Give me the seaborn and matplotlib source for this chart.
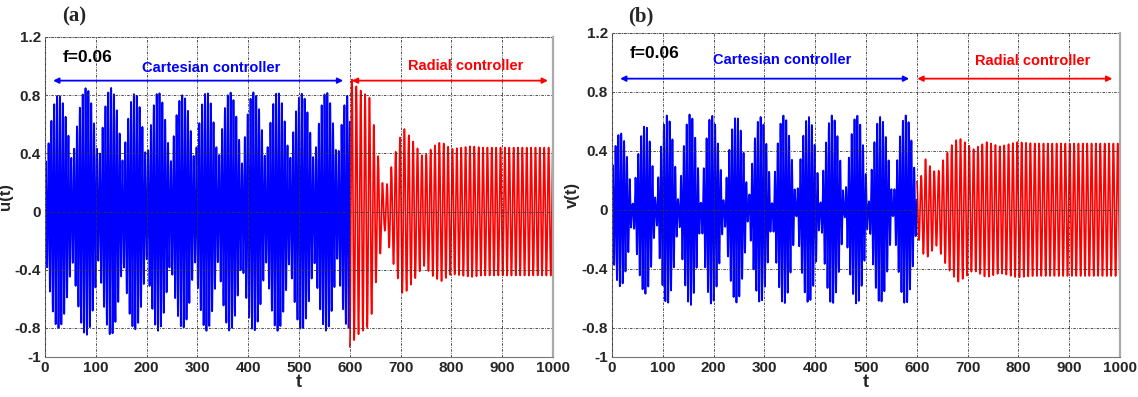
import numpy as np
import pandas as pd
import matplotlib
matplotlib.use("Agg")
import matplotlib.pyplot as plt
import seaborn as sns

# ---------------- data ----------------
t_switch = 600
t_end = 1000
cart_period = 5.6      # visible oscillation period, Cartesian phase
rad_period = 8.6       # visible oscillation period, Radial phase

# u(t): Cartesian phase, beat peak times / peak amplitudes, trough level
u_beat_t = [26, 81, 130, 177, 223, 271, 318, 364, 411, 458, 505, 554, 597]
u_beat_amp = [0.80, 0.85, 0.85, 0.81, 0.82, 0.80, 0.82, 0.82, 0.82, 0.82, 0.81, 0.82, 0.80]
u_trough = 0.32
# u(t): Radial phase envelope
u_rad_t = [600, 615, 640, 655, 668, 685, 705, 725, 745, 765, 780, 800, 840, 860, 1000]
u_rad_amp = [0.93, 0.85, 0.78, 0.40, 0.12, 0.35, 0.58, 0.48, 0.37, 0.45, 0.48, 0.43, 0.45, 0.44, 0.44]

# v(t): Cartesian phase
v_beat_t = [16, 65, 108, 154, 196, 245, 292, 338, 387, 433, 482, 528, 578]
v_beat_amp = [0.52, 0.57, 0.64, 0.65, 0.64, 0.63, 0.63, 0.64, 0.63, 0.64, 0.64, 0.63, 0.64]
v_trough = 0.03
# v(t): Radial phase envelope
v_rad_t = [600, 608, 616, 625, 640, 652, 669, 682, 698, 711, 737, 764, 797, 830, 1000]
v_rad_amp = [0.19, 0.22, 0.35, 0.30, 0.24, 0.34, 0.44, 0.49, 0.45, 0.41, 0.46, 0.43, 0.46, 0.45, 0.45]

x_ticks = [0, 100, 200, 300, 400, 500, 600, 700, 800, 900, 1000]
y_ticks = [-1, -0.8, -0.4, 0, 0.4, 0.8, 1.2]
y_tick_labels = ["-1", "-0.8", "-0.4", "0", "0.4", "0.8", "1.2"]

panel_labels = ["(a)", "(b)"]
y_labels = ["u(t)", "v(t)"]

# ---------------- build signals ----------------
dt = 0.1
t = np.arange(0, t_end + dt / 2, dt)


def cart_signal(tt, beat_t, beat_amp, trough, period):
    bt = np.asarray(beat_t, float)
    tb = np.mean(np.diff(bt))
    bt_ext = np.concatenate([[bt[0] - tb], bt, [bt[-1] + tb]])
    k = np.interp(tt, bt_ext, np.arange(len(bt_ext)))
    pk = np.interp(tt, bt, beat_amp)
    env = trough + (pk - trough) * np.abs(np.cos(np.pi * k))
    return env * np.sin(2 * np.pi * tt / period)


def rad_signal(tt, rt, ra, period, phase):
    env = np.interp(tt, rt, ra)
    return env * np.cos(2 * np.pi * (tt - t_switch) / period + phase)


mask_c = t <= t_switch
mask_r = t >= t_switch
tc, tr = t[mask_c], t[mask_r]

u_c = cart_signal(tc, u_beat_t, u_beat_amp, u_trough, cart_period)
u_r = rad_signal(tr, u_rad_t, u_rad_amp, rad_period, np.pi)
v_c = cart_signal(tc, v_beat_t, v_beat_amp, v_trough, cart_period)
v_r = rad_signal(tr, v_rad_t, v_rad_amp, rad_period, 0.0)

# ---------------- plotting ----------------
sns.set_style("white")
plt.rcParams["font.family"] = ["Liberation Sans", "DejaVu Sans"]

fig = plt.figure(figsize=(11.38, 3.97), dpi=100)
ax_pos = [
    [45 / 1138, 1 - 357 / 397, (553 - 45) / 1138, (357 - 37) / 397],
    [612 / 1138, 1 - 357 / 397, (1120 - 612) / 1138, (357 - 33) / 397],
]
axes = [fig.add_axes(p) for p in ax_pos]

series = [(tc, u_c, tr, u_r), (tc, v_c, tr, v_r)]
ann = [
    dict(f=(35, 1.06), cart=(327, 0.99), rad=(829, 1.0),
         barr=(16, 587, 0.90), rarr=(604, 990, 0.90)),
    dict(f=(35, 1.06), cart=(335, 1.02), rad=(828, 1.01),
         barr=(16, 585, 0.89), rarr=(601, 985, 0.89)),
]

for i, ax in enumerate(axes):
    a_t, a_y, b_t, b_y = series[i]
    sns.lineplot(x=a_t, y=a_y, ax=ax, color="#0000ff", linewidth=1.3,
                 estimator=None, sort=False)
    sns.lineplot(x=b_t, y=b_y, ax=ax, color="#ff0000", linewidth=1.2,
                 estimator=None, sort=False)
    ax.set_xlim(0, 1000)
    ax.set_ylim(-1, 1.2)
    ax.set_xticks(x_ticks)
    ax.set_xticklabels([str(x) for x in x_ticks])
    ax.set_yticks(y_ticks)
    ax.set_yticklabels(y_tick_labels)
    ax.grid(True, color="#333333", linestyle=(0, (3, 1.5, 1, 1.5)), linewidth=0.6)
    ax.set_axisbelow(False)
    ax.tick_params(direction="in", length=3, width=0.6, labelsize=11, pad=3)
    for lab in ax.get_xticklabels() + ax.get_yticklabels():
        lab.set_fontweight("bold")
    for s in ax.spines.values():
        s.set_color("#777777")
        s.set_linewidth(0.8)
    ax.spines["right"].set_linewidth(1.6)
    ax.spines["right"].set_color("#aaaaaa")
    ax.spines["top"].set_color("#bbbbbb")
    ax.set_xlabel("t", fontsize=13, fontweight="bold", labelpad=-1)
    ax.set_ylabel(y_labels[i], fontsize=12, fontweight="bold", labelpad=1)

    a = ann[i]
    ax.text(a["f"][0], a["f"][1], "f=0.06", fontsize=12.5, fontweight="bold",
            color="black", ha="left", va="center")
    ax.text(a["cart"][0], a["cart"][1], "Cartesian controller", fontsize=10.5,
            fontweight="bold", color="#0000ff", ha="center", va="center")
    ax.text(a["rad"][0], a["rad"][1], "Radial controller", fontsize=10.5,
            fontweight="bold", color="#ff0000", ha="center", va="center")
    x0, x1, yy = a["barr"]
    ax.annotate("", xy=(x1, yy), xytext=(x0, yy),
                arrowprops=dict(arrowstyle="<|-|>", color="#0000ff", lw=1.3,
                                mutation_scale=8, shrinkA=0, shrinkB=0))
    x0, x1, yy = a["rarr"]
    ax.annotate("", xy=(x1, yy), xytext=(x0, yy),
                arrowprops=dict(arrowstyle="<|-|>", color="#ff0000", lw=1.3,
                                mutation_scale=8, shrinkA=0, shrinkB=0))

fig.text(62 / 1138, 1 - 16 / 397, panel_labels[0], fontsize=15, fontweight="bold",
         family=["Liberation Serif", "DejaVu Serif"], ha="left", va="center")
fig.text(628 / 1138, 1 - 16 / 397, panel_labels[1], fontsize=15, fontweight="bold",
         family=["Liberation Serif", "DejaVu Serif"], ha="left", va="center")

fig.savefig("out.png", dpi=100)
